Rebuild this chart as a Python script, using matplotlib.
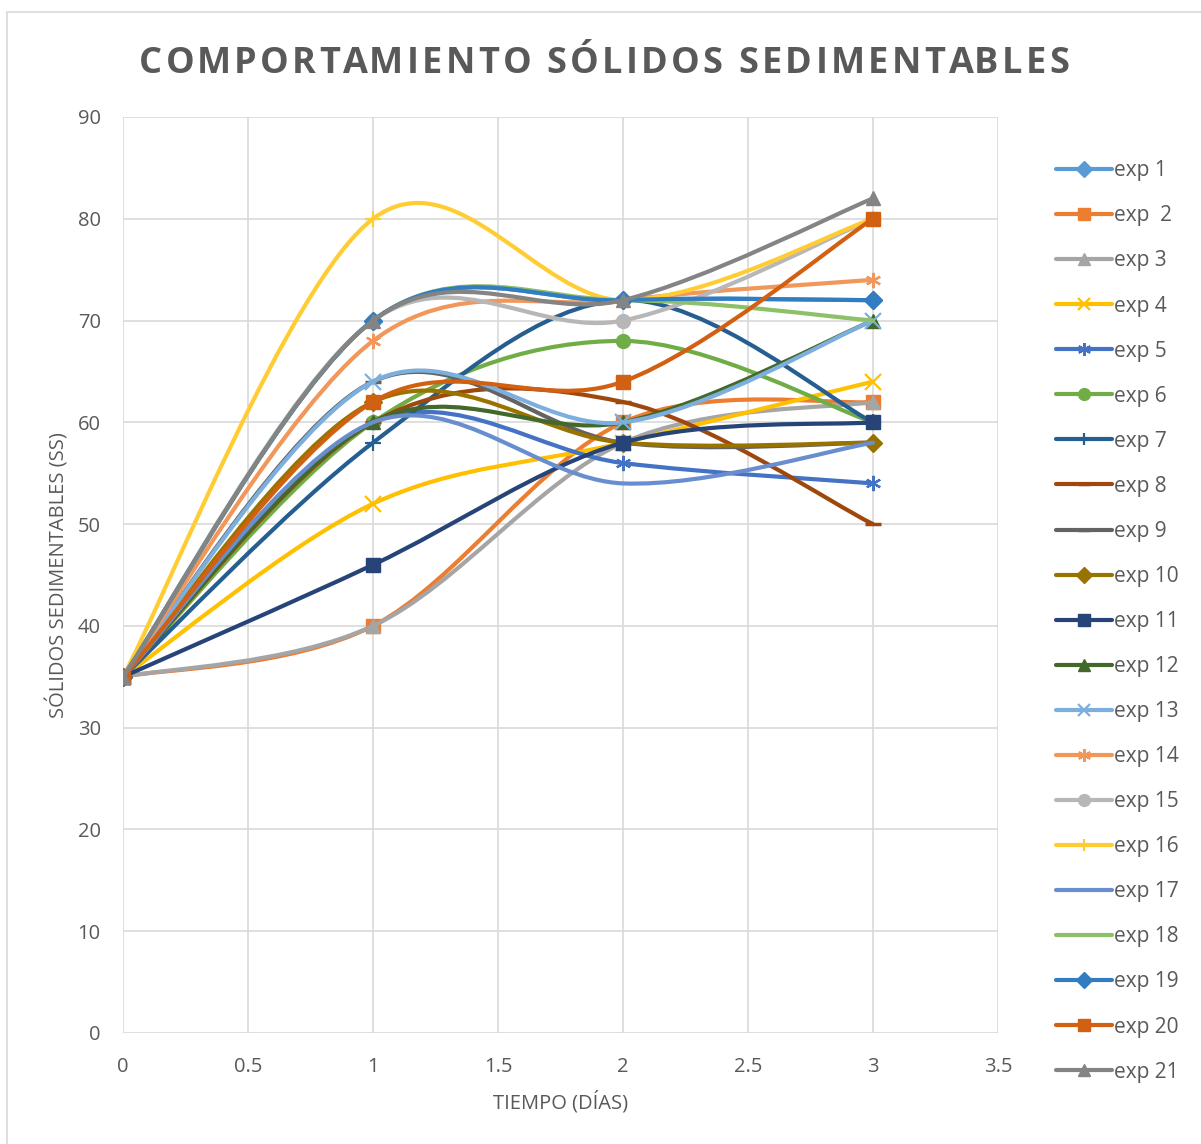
import numpy as np
import matplotlib
matplotlib.use("Agg")
import matplotlib.pyplot as plt
from matplotlib.path import Path
from matplotlib.patches import PathPatch, Rectangle
from matplotlib.lines import Line2D

plt.rcParams['font.family'] = ['Open Sans', 'DejaVu Sans']

# Time in days
dias = [0, 1, 2, 3]

# Settleable solids per experiment
exp1 = [35, 70, 72, 72]
exp2 = [35, 40, 60, 62]
exp3 = [35, 40, 58, 62]
exp4 = [35, 52, 58, 64]
exp5 = [35, 60, 56, 54]
exp6 = [35, 60, 68, 60]
exp7 = [35, 58, 72, 60]
exp8 = [35, 60, 62, 50]
exp9 = [35, 64, 58, 58]
exp10 = [35, 62, 58, 58]
exp11 = [35, 46, 58, 60]
exp12 = [35, 60, 60, 70]
exp13 = [35, 64, 60, 70]
exp14 = [35, 68, 72, 74]
exp15 = [35, 70, 70, 80]
exp16 = [35, 80, 72, 80]
exp17 = [35, 60, 54, 58]
exp18 = [35, 70, 72, 70]
exp19 = [35, 70, 72, 72]
exp20 = [35, 62, 64, 80]
exp21 = [35, 70, 72, 82]

etiquetas = ["exp 1", "exp  2", "exp 3", "exp 4", "exp 5", "exp 6", "exp 7",
             "exp 8", "exp 9", "exp 10", "exp 11", "exp 12", "exp 13", "exp 14",
             "exp 15", "exp 16", "exp 17", "exp 18", "exp 19", "exp 20", "exp 21"]
series = [exp1, exp2, exp3, exp4, exp5, exp6, exp7, exp8, exp9, exp10, exp11,
          exp12, exp13, exp14, exp15, exp16, exp17, exp18, exp19, exp20, exp21]

colores = ["#5B9BD5", "#ED7D31", "#A5A5A5", "#FFC000", "#4472C4", "#70AD47",
           "#255E91", "#9E480E", "#636363", "#997300", "#264478", "#43682B",
           "#7CAFDD", "#F1975A", "#B7B7B7", "#FFCD33", "#698ED0", "#8CC168",
           "#327DC2", "#D26012", "#848484"]
asterisco = (6, 2, 0)
marcadores = ["D", "s", "^", "x", asterisco, "o", "+", "_", "_", "D", "s", "^",
              "x", asterisco, "o", "+", None, None, "D", "s", "^"]

TITULO = "COMPORTAMIENTO SÓLIDOS SEDIMENTABLES"
GRIS_TEXTO = "#595959"


def curva_suave(x, y):
    """Smoothed line through the points as cubic Bezier segments."""
    pts = np.column_stack([x, y]).astype(float)
    n = len(pts)
    verts = [pts[0]]
    codes = [Path.MOVETO]
    for i in range(n - 1):
        p0 = pts[max(i - 1, 0)]
        p1 = pts[i]
        p2 = pts[i + 1]
        p3 = pts[min(i + 2, n - 1)]
        c1 = p1 + (p2 - p0) / 6.0
        c2 = p2 - (p3 - p1) / 6.0
        verts += [c1, c2, p2]
        codes += [Path.CURVE4] * 3
    return Path(verts, codes)


def texto_espaciado(fig, xc, yc, texto, tracking_px, **kw):
    """Draw a centred string with extra letter spacing (in pixels)."""
    r = fig.canvas.get_renderer()
    W = fig.bbox.width

    def ancho(s):
        if not s:
            return 0.0
        t = fig.text(0, 0, s, **kw)
        w = t.get_window_extent(renderer=r).width
        t.remove()
        return w

    total = ancho(texto) + tracking_px * (len(texto) - 1)
    x0 = xc * W - total / 2
    for i, ch in enumerate(texto):
        if ch == " ":
            continue
        x = x0 + ancho(texto[:i]) + tracking_px * i
        fig.text(x / W, yc, ch, ha="left", va="baseline", **kw)


fig = plt.figure(figsize=(12.01, 11.44), dpi=100)
ax = fig.add_axes([123 / 1201, 1 - 1033 / 1144, (998 - 123) / 1201, (1033 - 117) / 1144])

# outer chart border
fig.patches.append(Rectangle((7 / 1201, -0.05), 1.2, 1 - 12 / 1144 + 0.05,
                             transform=fig.transFigure, fill=False,
                             edgecolor="#D9D9D9", linewidth=1.2))

lw = 3.0
handles = []
for y, c, m, lab in zip(series, colores, marcadores, etiquetas):
    ax.add_patch(PathPatch(curva_suave(dias, y), facecolor="none", edgecolor=c,
                           linewidth=lw, capstyle="round", joinstyle="round", zorder=3))
    ms = 10
    mew = 1.0
    if m in ("x", "+", asterisco):
        ms, mew = 11, 1.6
    elif m == "_":
        ms, mew = 11, 2.5
    elif m == "D":
        ms = 9
    if m is not None:
        ax.plot(dias, y, linestyle="none", marker=m, markersize=ms, color=c,
                markeredgecolor=c, markeredgewidth=mew, zorder=3)
    handles.append(Line2D([], [], color=c, linewidth=lw, marker=m,
                          markersize=ms * 0.85, markeredgecolor=c,
                          markeredgewidth=mew, solid_capstyle="round"))

ax.set_xlim(0, 3.5)
ax.set_ylim(0, 90)
ax.set_xticks(np.arange(0, 3.51, 0.5))
ax.set_xticklabels(["0", "0.5", "1", "1.5", "2", "2.5", "3", "3.5"])
ax.set_yticks(np.arange(0, 91, 10))
ax.grid(True, color="#D9D9D9", linewidth=1.2, zorder=0)
ax.set_axisbelow(True)
for s in ax.spines.values():
    s.set_visible(False)
ax.tick_params(length=0, labelsize=14.5, labelcolor=GRIS_TEXTO)
ax.tick_params(axis="x", pad=17)
ax.tick_params(axis="y", pad=16)

ax.set_xlabel("TIEMPO (DÍAS)", fontsize=14.5, color=GRIS_TEXTO, labelpad=10)
ax.set_ylabel("SÓLIDOS SEDIMENTABLES (SS)", fontsize=14.5, color=GRIS_TEXTO, labelpad=6)

texto_espaciado(fig, 604 / 1201, 1 - 73 / 1144, TITULO, 3.3,
                fontsize=26, fontweight="bold", color=GRIS_TEXTO)

leg = fig.legend(handles, etiquetas, loc="upper left",
                 bbox_to_anchor=(1048 / 1201, 1 - 152 / 1144), frameon=False,
                 fontsize=15, labelcolor=GRIS_TEXTO, handlelength=2.65,
                 handletextpad=0.1, labelspacing=1.155, borderaxespad=0)

fig.savefig("out.png", dpi=100)
